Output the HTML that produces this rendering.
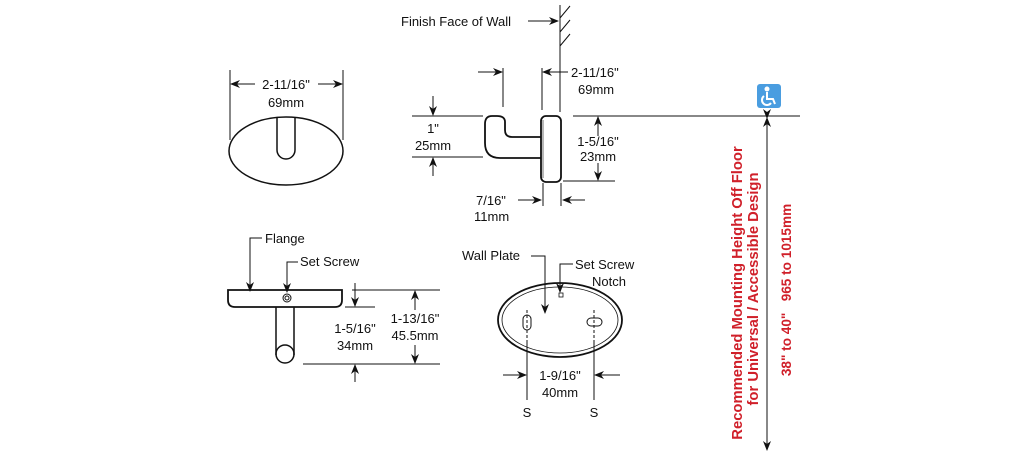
<!DOCTYPE html>
<html><head><style>body{margin:0;background:#fff}svg{display:block}text{font-family:"Liberation Sans",Arial,sans-serif;font-size:13px;fill:#111}</style></head><body>
<svg width="1025" height="459" viewBox="0 0 1025 459" xmlns="http://www.w3.org/2000/svg">
<defs><marker id="a" markerWidth="10" markerHeight="8" refX="9" refY="4" orient="auto" markerUnits="userSpaceOnUse"><path d="M0,0 L10,4 L0,8 L3,4z" fill="#111"/></marker></defs>
<g stroke="#111" stroke-width="1" fill="none">
<ellipse cx="286" cy="151" rx="57" ry="34" stroke-width="1.5"/>
<path d="M277,117 V150 A9,9 0 0 0 295,150 V117" stroke-width="1.5"/>
<line x1="230" y1="70" x2="230" y2="140"/><line x1="343" y1="70" x2="343" y2="140"/>
<line x1="255" y1="84" x2="231" y2="84" marker-end="url(#a)"/><line x1="318" y1="84" x2="342" y2="84" marker-end="url(#a)"/>
<line x1="560" y1="5" x2="560" y2="112"/>
<path d="M560,18 L570,6 M560,32 L570,20 M560,46 L570,34"/>
<line x1="528" y1="21" x2="558" y2="21" marker-end="url(#a)"/>
<rect x="541" y="116" width="20" height="66" rx="5" stroke-width="1.8"/>
<path d="M543,120 V178" stroke-width="0.6"/>
<path d="M541,137 H512 Q505,137 505,130 V122 Q505,116 497,116 H492 Q485,116 485,124 V143 Q485,158 500,158 H541" stroke-width="1.8"/>
<line x1="503" y1="68" x2="503" y2="107"/><line x1="542" y1="68" x2="542" y2="110"/>
<line x1="478" y1="72" x2="502" y2="72" marker-end="url(#a)"/><line x1="568" y1="72" x2="543" y2="72" marker-end="url(#a)"/>
<line x1="412" y1="116" x2="483" y2="116"/><line x1="412" y1="157" x2="483" y2="157"/>
<line x1="433" y1="96" x2="433" y2="115" marker-end="url(#a)"/><line x1="433" y1="176" x2="433" y2="158" marker-end="url(#a)"/>
<line x1="573" y1="116" x2="800" y2="116"/><line x1="563" y1="181" x2="615" y2="181"/>
<line x1="598" y1="136" x2="598" y2="117" marker-end="url(#a)"/><line x1="598" y1="163" x2="598" y2="180" marker-end="url(#a)"/>
<line x1="543" y1="183" x2="543" y2="206"/><line x1="561" y1="183" x2="561" y2="206"/>
<line x1="518" y1="200" x2="541" y2="200" marker-end="url(#a)"/><line x1="585" y1="200" x2="563" y2="200" marker-end="url(#a)"/>
<path d="M228,290 H342 V300 Q342,307 335,307 H235 Q228,307 228,300 Z" stroke-width="1.8"/>
<path d="M276,307 V355 M294,307 V355" stroke-width="1.5"/>
<circle cx="285" cy="354" r="9" stroke-width="1.5"/>
<circle cx="287" cy="298" r="4"/><circle cx="287" cy="298" r="2"/>
<path d="M262,238 H250 V291" marker-end="url(#a)"/>
<path d="M298,262 H287 V292" marker-end="url(#a)"/>
<line x1="352" y1="290" x2="440" y2="290"/><line x1="345" y1="307" x2="375" y2="307"/><line x1="303" y1="364" x2="440" y2="364"/>
<line x1="355" y1="283" x2="355" y2="306" marker-end="url(#a)"/><line x1="355" y1="382" x2="355" y2="365" marker-end="url(#a)"/>
<line x1="415" y1="310" x2="415" y2="291" marker-end="url(#a)"/><line x1="415" y1="345" x2="415" y2="363" marker-end="url(#a)"/>
<ellipse cx="560" cy="320" rx="62" ry="37" stroke-width="1.8"/>
<ellipse cx="560" cy="320" rx="58" ry="33" stroke-width="0.8"/>
<rect x="523" y="315" width="8" height="15" rx="4"/>
<rect x="587" y="318" width="15" height="8" rx="4"/>
<path d="M527,310 V340 M594,310 V340" stroke-dasharray="3,2"/>
<line x1="527" y1="340" x2="527" y2="400"/><line x1="594" y1="340" x2="594" y2="400"/>
<line x1="503" y1="375" x2="526" y2="375" marker-end="url(#a)"/><line x1="620" y1="375" x2="595" y2="375" marker-end="url(#a)"/>
<path d="M531,256 H545 V313" marker-end="url(#a)"/>
<path d="M573,264 H560 V292" marker-end="url(#a)"/>
<rect x="559" y="293" width="4" height="4" stroke-width="0.8"/>
<line x1="767" y1="118" x2="767" y2="450" marker-start="url(#a)" marker-end="url(#a)"/>
</g>
<line x1="767" y1="128" x2="767" y2="118" stroke="#111" marker-end="url(#a)"/>
<rect x="757" y="84" width="24" height="24" rx="3" fill="#4a9de0"/>
<g stroke="#fff" stroke-width="2" fill="none"><circle cx="767" cy="89" r="1.5" fill="#fff"/><path d="M767,92 V99 H773 L775,104"/><path d="M764,96 A5,5 0 1 0 771,103"/></g>
<text x="286" y="89" text-anchor="middle">2-11/16"</text><text x="286" y="107" text-anchor="middle">69mm</text>
<text x="401" y="26">Finish Face of Wall</text>
<text x="571" y="77">2-11/16"</text><text x="578" y="94">69mm</text>
<text x="433" y="133" text-anchor="middle">1"</text><text x="433" y="150" text-anchor="middle">25mm</text>
<text x="598" y="146" text-anchor="middle">1-5/16"</text><text x="598" y="161" text-anchor="middle">23mm</text>
<text x="476" y="205">7/16"</text><text x="474" y="221">11mm</text>
<text x="265" y="243">Flange</text><text x="300" y="266">Set Screw</text>
<text x="355" y="333" text-anchor="middle">1-5/16"</text><text x="355" y="350" text-anchor="middle">34mm</text>
<text x="415" y="323" text-anchor="middle">1-13/16"</text><text x="415" y="340" text-anchor="middle">45.5mm</text>
<text x="462" y="260">Wall Plate</text>
<text x="575" y="269">Set Screw</text><text x="592" y="286">Notch</text>
<text x="560" y="380" text-anchor="middle">1-9/16"</text><text x="560" y="397" text-anchor="middle">40mm</text>
<text x="527" y="417" text-anchor="middle">S</text><text x="594" y="417" text-anchor="middle">S</text>
<g style="font-weight:bold">
<text transform="translate(742,293) rotate(-90)" text-anchor="middle" style="fill:#d0202a;font-size:14.8px">Recommended Mounting Height Off Floor</text>
<text transform="translate(758,289) rotate(-90)" text-anchor="middle" style="fill:#d0202a;font-size:14.8px">for Universal / Accessible Design</text>
<text transform="translate(791,290) rotate(-90)" text-anchor="middle" style="fill:#d0202a;font-size:13.6px" xml:space="preserve">38" to 40"   965 to 1015mm</text>
</g>
</svg>
</body></html>
